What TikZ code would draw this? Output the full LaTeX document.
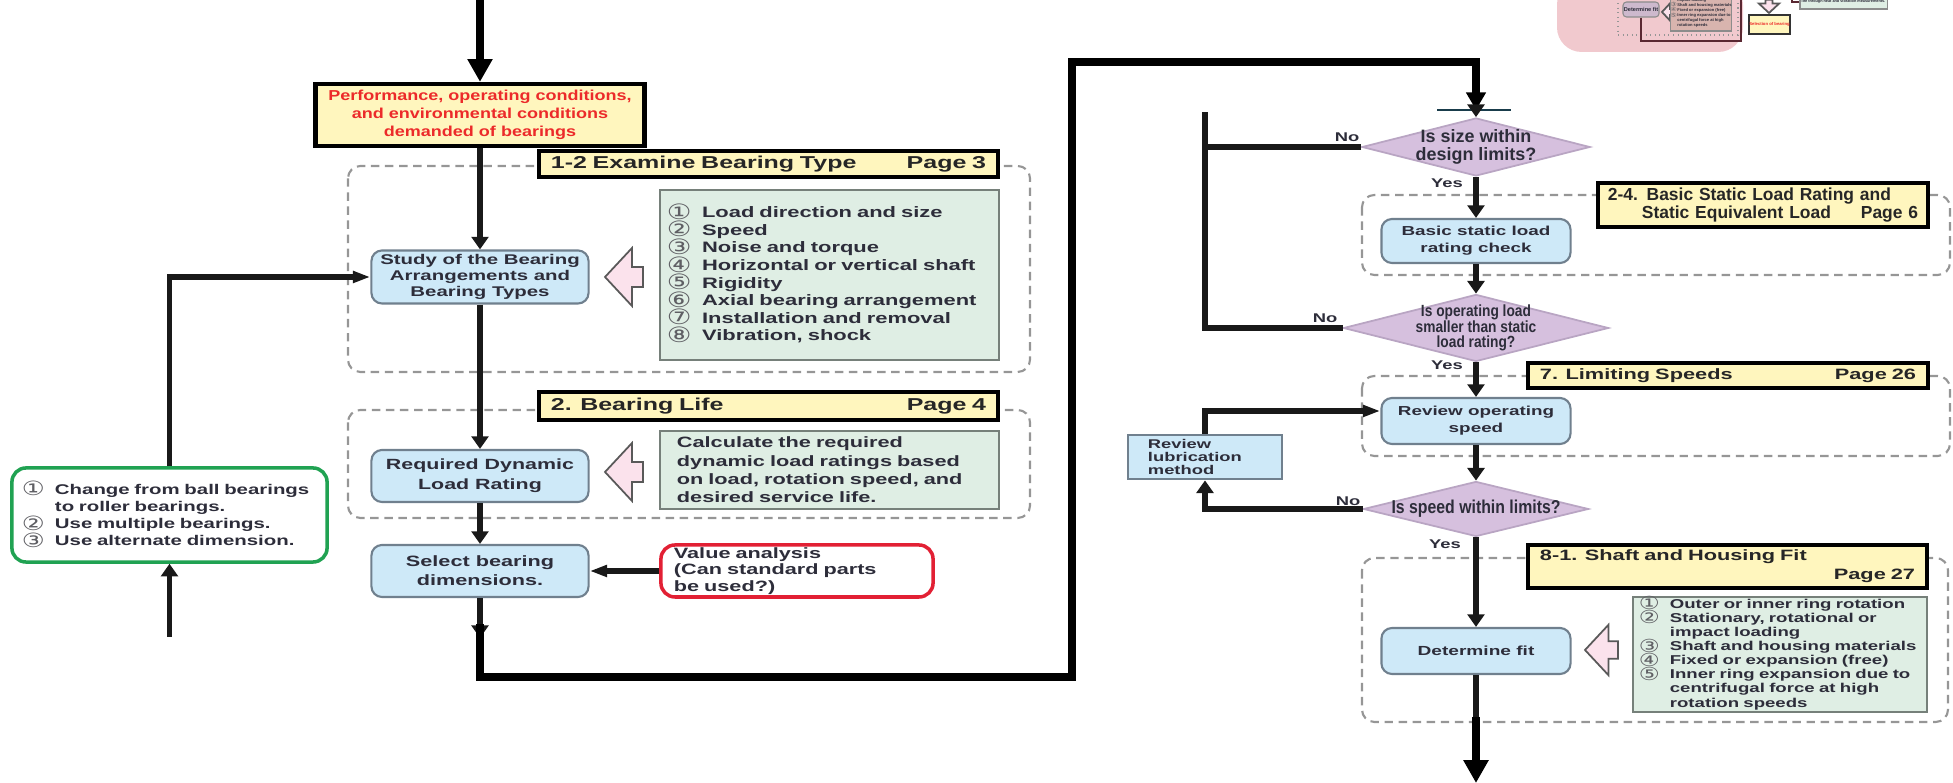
\documentclass[tikz,border=0pt]{standalone}
\usepackage{graphicx}
\usepackage{fontspec}
\setmainfont{Liberation Sans}
\newfontfamily\widefont[FakeStretch=1.45]{Liberation Sans}
\newfontfamily\semifont[FakeStretch=1.25]{Liberation Sans}
\newfontfamily\condfont{Liberation Sans}
\newfontfamily\narrowfont[FakeStretch=0.85]{Liberation Sans}
\newfontfamily\numfont[FakeStretch=1.3]{DejaVu Sans}
\usetikzlibrary{arrows.meta,shapes.geometric,positioning}

\definecolor{txt}{RGB}{45,45,58}
\definecolor{headyellow}{RGB}{255,246,190}
\definecolor{boxblue}{RGB}{206,233,248}
\definecolor{boxline}{RGB}{112,128,142}
\definecolor{diapurple}{RGB}{214,192,222}
\definecolor{diaedge}{RGB}{185,165,195}
\definecolor{listgreen}{RGB}{223,238,228}
\definecolor{listline}{RGB}{118,128,122}
\definecolor{arrowpink}{RGB}{251,226,236}
\definecolor{groupgray}{RGB}{150,150,150}
\definecolor{perfred}{RGB}{236,42,42}
\definecolor{valuered}{RGB}{226,32,52}
\definecolor{changegreen}{RGB}{32,162,82}
\definecolor{numgray}{RGB}{95,95,100}
\definecolor{tickcol}{RGB}{25,60,75}
\definecolor{fragpink}{RGB}{241,201,206}
\definecolor{fragfitcol}{RGB}{205,185,205}
\definecolor{fraglistcol}{RGB}{216,180,174}
\definecolor{fragdark}{RGB}{90,40,50}

% text sizes: wide / semi / condensed / narrow bold
\newcommand\wtxt[2]{\widefont\bfseries\fontsize{#1}{#2}\selectfont}
\newcommand\stxt[2]{\semifont\bfseries\fontsize{#1}{#2}\selectfont}
\newcommand\ctxt[2]{\condfont\bfseries\fontsize{#1}{#2}\selectfont}
\newcommand\ntxt[2]{\narrowfont\bfseries\fontsize{#1}{#2}\selectfont}
% circled item number with hanging indent (kept out of the line height)
\newcommand\cn[2][10pt]{\makebox[#1][l]{\smash{\raisebox{-0.2ex}{\scalebox{1.4}{\numfont\mdseries\color{numgray}#2}}}}}

\tikzset{
  conn/.style={line width=1.6pt, draw=black!90},
  outer/.style={line width=2.1pt, draw=black},
  arr/.style={-{Triangle[width=4.8pt,length=3.6pt]}},
  harr/.style={-{Triangle[width=3.2pt,length=5pt]}},
  toparr/.style={-{Triangle[width=5.4pt,length=5pt]}},
  bigarr/.style={-{Triangle[width=6.8pt,length=6.5pt]}},
  flowbox/.style={draw=boxline, fill=boxblue, line width=0.6pt, rounded corners=3pt, align=center, inner sep=0pt, text=txt},
  lubbox/.style={draw=boxline, fill=boxblue, line width=0.8pt, align=left, inner xsep=0.2cm, inner ysep=0pt, text=txt},
  listbox/.style={draw=listline, fill=listgreen, line width=0.7pt, align=left, inner ysep=0pt, inner xsep=0.07cm, text=txt},
  valuebox/.style={draw=valuered, fill=white, line width=1pt, rounded corners=4pt, align=left, inner xsep=0.13cm, inner ysep=0pt, text=txt},
  changebox/.style={draw=changegreen, fill=white, line width=1pt, rounded corners=4pt, align=left, inner xsep=0.1cm, inner ysep=0pt, text=txt},
  perfbox/.style={draw=black, fill=headyellow, line width=1.2pt, align=center, inner sep=0pt, text=perfred, font=\stxt{4.1}{5.1}},
  headbox/.style={draw=black, fill=headyellow, line width=1.1pt, align=left, inner xsep=0.12cm, inner ysep=0pt, text=black!85, font=\wtxt{4.27}{5.4}},
  group/.style={draw=groupgray, line width=0.6pt, dash pattern=on 2.4pt off 1.6pt, rounded corners=3.5pt},
  decision/.style={diamond, draw=diaedge, fill=diapurple, line width=0.5pt, inner sep=0pt},
  dtext/.style={align=center, text=txt, inner sep=0pt},
  yesno/.style={text=txt, inner sep=0pt, font=\wtxt{3.6}{4}},
  hollow/.style={draw=black!65, fill=arrowpink, line width=0.5pt},
  hollowleft/.pic={\draw[hollow] (0,0) -- (27,-29) -- (27,-10) -- (38,-10) -- (38,10) -- (27,10) -- (27,29) -- cycle;},
  fragnode/.style={inner sep=0pt, draw=black!45, line width=0.3pt, text=txt, align=left, font=\ctxt{1.15}{1.45}},
  fragline/.style={draw=fragdark, line width=0.5pt},
}

\begin{document}
\begin{tikzpicture}[x=0.01cm,y=-0.01cm]
  \useasboundingbox (0,0) rectangle (1953,783);

  % shrunken copy of the next sheet, top right
  \fill[fragpink, rounded corners=7pt] (1557,-20) rectangle (1743,52);
  \draw[groupgray, line width=0.3pt, densely dotted] (1618,-6) rectangle (1738,35);
  \node[fragnode, fill=fragfitcol, rounded corners=1pt, minimum width=0.36cm, minimum height=0.15cm, font=\ctxt{1.6}{1.8}] (fragfit) at (1641,9.5) {Determine fit};
  \pic[scale=0.3] at (1662,12) {hollowleft};
  \node[fragnode, fill=fraglistcol, minimum width=0.6cm, minimum height=0.36cm] (fraglist) at (1701,13) {\hspace*{2pt}impact loading\\\cn[2pt]{③}Shaft and housing materials\\\cn[2pt]{④}Fixed or expansion (free)\\\cn[2pt]{⑤}Inner ring expansion due to\\\hspace*{2pt}centrifugal force at high\\\hspace*{2pt}rotation speeds};
  \coordinate (fragturn) at (1741,41);
  \coordinate (fragend) at (1741,-6);
  \draw[fragline] (fragfit) |- (fragturn) -- (fragend);
  \pic[rotate=90, scale=0.35] at (1769,13) {hollowleft};
  \node[fragnode, fill=headyellow, draw=black!80, line width=0.5pt, minimum width=0.41cm, minimum height=0.19cm, text=perfred, font=\ctxt{1.2}{1.4}] (fragsel) at (1769.5,24.5) {Selection of bearing};
  \node[fragnode, fill=listgreen, minimum width=0.87cm, minimum height=0.14cm, font=\ctxt{1.08}{1.3}] (fraglife) at (1843.5,2) {life through heat and vibration measurements.};
  \coordinate (fragtick) at (1792,-4);
  \draw[fragline] (fragtick) |- (fraglife);

  % start and demands
  \coordinate (start) at (480,0);
  \node[perfbox, minimum width=3.29cm, minimum height=0.62cm] (perf) at (480,115) {Performance, operating conditions,\\and environmental conditions\\demanded of bearings};

  % 1-2 bearing type
  \draw[group] (348,166) rectangle (1030,372);
  \node[headbox, text width=4.35cm, minimum height=0.26cm, font=\wtxt{4.9}{5.4}] (head1) at (768.5,164) {1-2 Examine Bearing Type\hfill Page 3};
  \node[flowbox, minimum width=2.17cm, minimum height=0.53cm, font=\wtxt{4.0}{4.5}] (study) at (480,277) {Study of the Bearing\\Arrangements and\\Bearing Types};
  \pic at (605,277) {hollowleft};
  \node[listbox, text width=3.25cm, minimum height=1.7cm, font=\wtxt{4.3}{5.0}] (factors) at (829.5,275) {\cn{①}Load direction and size\\\cn{②}Speed\\\cn{③}Noise and torque\\\cn{④}Horizontal or vertical shaft\\\cn{⑤}Rigidity\\\cn{⑥}Axial bearing arrangement\\\cn{⑦}Installation and removal\\\cn{⑧}Vibration, shock};

  % 2. bearing life
  \draw[group] (348,410) rectangle (1030,518);
  \node[headbox, text width=4.35cm, minimum height=0.28cm, font=\wtxt{4.9}{5.4}] (head2) at (768.5,406) {2. Bearing Life\hfill Page 4};
  \node[flowbox, minimum width=2.17cm, minimum height=0.52cm, font=\wtxt{4.2}{5.8}] (life) at (480,476) {Required Dynamic\\Load Rating};
  \pic at (605,472) {hollowleft};
  \node[listbox, text width=3.05cm, inner xsep=0.17cm, minimum height=0.78cm, font=\wtxt{4.26}{5.2}] (lifecalc) at (829.5,470) {Calculate the required\\dynamic load ratings based\\on load, rotation speed, and\\desired service life.};

  % dimensions
  \node[flowbox, minimum width=2.17cm, minimum height=0.52cm, font=\wtxt{4.25}{5.4}] (dims) at (480,571) {Select bearing\\dimensions.};
  \node[valuebox, text width=2.46cm, minimum height=0.52cm, font=\wtxt{4.25}{4.6}] (value) at (797,571) {Value analysis\\(Can standard parts\\be used?)};

  % alternatives on the left
  \node[changebox, text width=2.95cm, minimum height=0.94cm, font=\wtxt{4.0}{4.9}] (change) at (169.5,515) {\cn[9.4pt]{①}Change from ball bearings\\\cn[9.4pt]{}to roller bearings.\\\cn[9.4pt]{②}Use multiple bearings.\\\cn[9.4pt]{③}Use alternate dimension.};
  \coordinate (changein) at (169.5,637);

  % loop over to the right column
  \coordinate (dimsout) at (480,638);
  \coordinate (loopstart) at (480,624);
  \coordinate (loopcorner) at (1072,677);
  \coordinate (looptop) at (1476,62);
  \coordinate (sizein) at (1476,110);
  \coordinate (tickl) at (1437,110);
  \coordinate (tickr) at (1511,110);
  \coordinate (retry) at (1205,112);

  % size and static load
  \node[decision, minimum width=2.28cm, minimum height=0.58cm, label={[dtext, font=\ctxt{5.1}{5.0}]center:{Is size within\\design limits?}}] (sizeok) at (1476,147) {};
  \node[yesno] (no1) at (1347,137) {No};
  \node[yesno] (yes1) at (1447,183) {Yes};
  \draw[group] (1362,195) rectangle (1950,275);
  \node[headbox, text width=3.1cm, inner xsep=0.1cm, minimum height=0.44cm, font=\ctxt{4.96}{5.1}] (head24) at (1763,205) {2-4. Basic Static Load Rating and\\\hspace*{0.34cm}Static Equivalent Load\hfill Page 6};
  \node[flowbox, minimum width=1.89cm, minimum height=0.44cm, font=\wtxt{3.7}{4.9}] (static) at (1476,241) {Basic static load\\rating check};
  \node[decision, minimum width=2.65cm, minimum height=0.67cm, label={[dtext, font=\ntxt{4.6}{4.4}]center:{Is operating load\\smaller than static\\load rating?}}] (loadok) at (1476,328) {};
  \node[yesno] (no2) at (1325,318) {No};
  \node[yesno] (yes2) at (1447,365) {Yes};

  % 7. limiting speeds
  \draw[group] (1362,376) rectangle (1950,456);
  \node[headbox, text width=3.76cm, minimum height=0.25cm] (head7) at (1728,375.5) {7. Limiting Speeds\hfill Page 26};
  \node[flowbox, minimum width=1.89cm, minimum height=0.46cm, font=\wtxt{3.7}{4.8}] (speed) at (1476,421) {Review operating\\speed};
  \node[lubbox, text width=1.14cm, minimum height=0.44cm, font=\wtxt{3.6}{3.6}] (lube) at (1205,457) {Review\\lubrication\\method};
  \node[decision, minimum width=2.25cm, minimum height=0.55cm, label={[dtext, font=\ntxt{5.3}{5.0}]center:{Is speed within limits?}}] (speedok) at (1476,509) {};
  \node[yesno] (no3) at (1348,501) {No};
  \node[yesno] (yes3) at (1445,544) {Yes};

  % 8-1. fit
  \draw[group] (1362,558) rectangle (1948,722);
  \node[headbox, text width=3.75cm, minimum height=0.43cm] (head81) at (1727.5,566.5) {8-1. Shaft and Housing Fit\\\hspace*{\fill}Page 27};
  \node[flowbox, minimum width=1.89cm, minimum height=0.46cm, font=\wtxt{3.75}{4.5}] (fit) at (1476,651) {Determine fit};
  \pic[scale=0.87] at (1585,650) {hollowleft};
  \node[listbox, text width=2.82cm, inner xsep=0.06cm, minimum height=1.15cm, font=\wtxt{3.65}{4.0}] (fitlist) at (1780,654.5) {\cn[8.8pt]{①}Outer or inner ring rotation\\\cn[8.8pt]{②}Stationary, rotational or\\\cn[8.8pt]{}impact loading\\\cn[8.8pt]{③}Shaft and housing materials\\\cn[8.8pt]{④}Fixed or expansion (free)\\\cn[8.8pt]{⑤}Inner ring expansion due to\\\cn[8.8pt]{}centrifugal force at high\\\cn[8.8pt]{}rotation speeds};
  \coordinate (fitout) at (1476,717);
  \coordinate (finish) at (1476,783);

  % connectors, left column
  \draw[outer,bigarr] (start) -- (perf);
  \draw[conn,arr] (perf) -- (study);
  \draw[conn,arr] (study) -- (life);
  \draw[conn,arr] (life) -- (dims);
  \draw[conn,arr] (dims) -- (dimsout);
  \draw[conn,harr] (value) -- (dims);
  \draw[conn,harr] (change) |- (study);
  \draw[conn,arr] (changein) -- (change);

  % the long way round
  \draw[outer,toparr] (loopstart) |- (loopcorner) |- (looptop) -- (sizein);
  \draw[tickcol, line width=0.6pt] (tickl) -- (tickr);

  % connectors, right column
  \draw[conn,arr] (sizein) -- (sizeok);
  \draw[conn,arr] (sizeok) -- (static);
  \draw[conn,arr] (static) -- (loadok);
  \draw[conn] (sizeok.west) -- (sizeok.west -| retry);
  \draw[conn] (loadok.west) -| (retry);
  \draw[conn,arr] (loadok) -- (speed);
  \draw[conn,arr] (speed) -- (speedok);
  \draw[conn,arr] (speedok.west) -| (lube);
  \draw[conn,harr] (lube.north) |- ([yshift=0.1cm]speed.west);
  \draw[conn,arr] (speedok) -- (fit);
  \draw[conn] (fit) -- (fitout);
  \draw[outer,bigarr] (fitout) -- (finish);
\end{tikzpicture}
\end{document}
